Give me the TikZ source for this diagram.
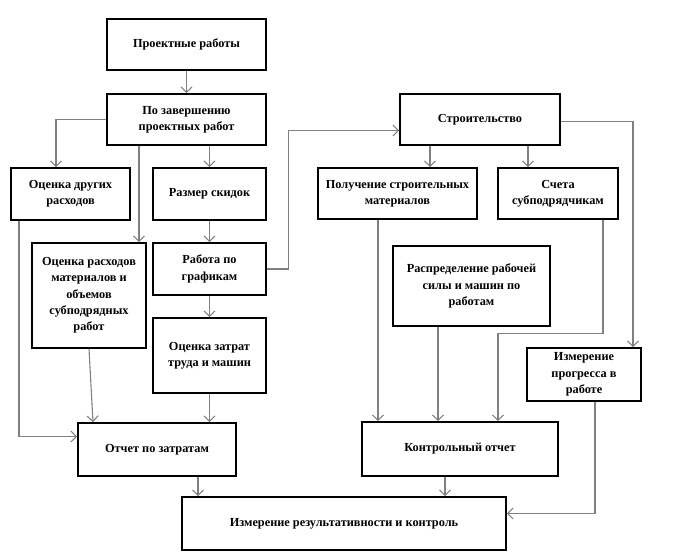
\documentclass[tikz,border=0pt]{standalone}
\usepackage{fontspec}
\setmainfont{Liberation Serif}
\usetikzlibrary{
  positioning,
  arrows.meta
}
\definecolor{fcGray}{HTML}{808080}

\begin{document}
\begin{tikzpicture}[
  x=1pt, y=-1pt,
  every node/.style={font=\fontsize{12.3}{16.3}\selectfont\bfseries, align=center},
  block/.style={
    rectangle, draw=black, line width=1.6pt, fill=white,
    inner sep=1pt
  },
  arrow/.style={-{Straight Barb[length=5.5pt, width=11pt]}, draw=fcGray, line width=1.1pt}
]
 \useasboundingbox (0,0) rectangle (678,559);

 % Left branch -- design works
 \node[block, minimum width=159, minimum height=51] (proj) at (186.5, 44.5) {Проектные работы};
 \node[block, minimum width=159, minimum height=51] (done) at (186.5,119.5) {По завершению\\проектных работ};
 \node[block, minimum width=119, minimum height=52] (other) at ( 70.5,194.0) {Оценка других\\расходов};
 \node[block, minimum width=113, minimum height=52] (disc) at (209.5,194.0) {Размер скидок};
 \node[block, minimum width=114, minimum height=105] (matl) at ( 89.0,295.5) {Оценка расходов\\материалов и\\объемов\\субподрядных\\работ};
 \node[block, minimum width=113, minimum height=52] (sched) at (209.5,269.0) {Работа по\\графикам};
 \node[block, minimum width=113, minimum height=75] (labor) at (209.5,355.5) {Оценка затрат\\труда и машин};
 \node[block, minimum width=158, minimum height=53] (costrep) at (157.0,449.5) {Отчет по затратам};

 \draw[arrow] (proj) -- (done);
 \draw[arrow] (done.west) -| ([xshift=-14.5pt]other.north);
 \draw[arrow] ([xshift=-47.5pt]done.south) -- ([xshift=50pt]matl.north);
 \draw[arrow] (disc.north |- done.south) -- (disc.north);
 \draw[arrow] (disc) -- (sched); \draw[arrow] (sched) -- (labor);
 \draw[arrow] ([xshift=-51.5pt]other.south) |- ([yshift=13pt]costrep.west);
 \draw[arrow] (matl.south) -- ([xshift=-64pt]costrep.north);
 \draw[arrow] (labor.south) -- (labor.south |- costrep.north);

 % Right branch -- construction
 \node[block, minimum width=160, minimum height=51] (constr) at (480.0,119.5) {Строительство};
 \node[block, minimum width=159, minimum height=51] (mater) at (397.5,193.5) {Получение строительных\\материалов};
 \node[block, minimum width=120, minimum height=51] (subc) at (558.0,193.5) {Счета\\субподрядчикам};
 \node[block, minimum width=157, minimum height=80] (alloc) at (471.5,286.0) {Распределение рабочей\\силы и машин по\\работам};
 \node[block, minimum width=114, minimum height=53] (progr) at (584.0,374.5) {Измерение\\прогресса в\\работе};
 \node[block, minimum width=196, minimum height=54] (ctrl) at (460.0,449.0) {Контрольный отчет};

 \draw[arrow] (sched.east) -- ++(22,0) |- ([yshift=-11pt]constr.west);
 \draw[arrow] ([xshift=-50pt]constr.south) -- ([xshift=32.5pt]mater.north);
 \draw[arrow] ([xshift=48pt]constr.south) -- ([xshift=-30pt]subc.north);
 \draw[arrow] ([yshift=-2pt]constr.east) -| ([xshift=49pt]progr.north);
 \draw[arrow] ([xshift=-19.5pt]mater.south) -- ([xshift=-82pt]ctrl.north);
 \draw[arrow] ([xshift=-33.5pt]alloc.south) -- ([xshift=-22pt]ctrl.north);
 \draw[arrow] ([xshift=45pt]subc.south) -- ++(0,114) -| ([xshift=38pt]ctrl.north);

 % Bottom -- performance
 \node[block, minimum width=324, minimum height=53] (perf) at (344.0,523.5) {Измерение результативности и контроль};

 \draw[arrow] ([xshift=41pt]costrep.south) -- ([xshift=-146pt]perf.north);
 \draw[arrow] ([xshift=-15pt]ctrl.south) -- ([xshift=101pt]perf.north);
 \draw[arrow] ([xshift=11pt]progr.south) |- ([yshift=10pt]perf.east);
\end{tikzpicture}
\end{document}
